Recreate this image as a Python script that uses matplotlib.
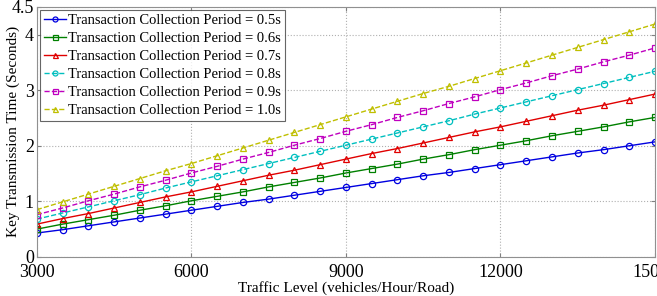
import numpy as np
import matplotlib.pyplot as plt

traffic = [3000, 3500, 4000, 4500, 5000, 5500, 6000, 6500, 7000, 7500, 8000, 8500, 9000,
           9500, 10000, 10500, 11000, 11500, 12000, 12500, 13000, 13500, 14000, 14500, 15000]

t_05 = [0.43, 0.49, 0.56, 0.63, 0.70, 0.77, 0.84, 0.91, 0.98, 1.04, 1.11, 1.18, 1.25,
        1.32, 1.39, 1.46, 1.52, 1.59, 1.66, 1.73, 1.80, 1.87, 1.93, 2.00, 2.07]
t_06 = [0.50, 0.59, 0.67, 0.75, 0.84, 0.92, 1.01, 1.09, 1.17, 1.26, 1.34, 1.42, 1.51,
        1.59, 1.67, 1.76, 1.84, 1.93, 2.01, 2.09, 2.18, 2.26, 2.34, 2.43, 2.51]
t_07 = [0.59, 0.69, 0.78, 0.88, 0.98, 1.08, 1.17, 1.27, 1.37, 1.47, 1.56, 1.66, 1.76,
        1.86, 1.95, 2.05, 2.15, 2.25, 2.34, 2.44, 2.54, 2.64, 2.73, 2.83, 2.93]
t_08 = [0.68, 0.79, 0.90, 1.01, 1.12, 1.24, 1.35, 1.46, 1.57, 1.68, 1.79, 1.90, 2.01,
        2.12, 2.23, 2.34, 2.45, 2.57, 2.68, 2.79, 2.90, 3.01, 3.12, 3.23, 3.34]
t_09 = [0.76, 0.88, 1.01, 1.13, 1.26, 1.38, 1.51, 1.63, 1.76, 1.88, 2.01, 2.13, 2.26,
        2.38, 2.51, 2.63, 2.76, 2.88, 3.01, 3.13, 3.26, 3.38, 3.51, 3.63, 3.76]
t_10 = [0.85, 0.99, 1.13, 1.27, 1.41, 1.55, 1.68, 1.82, 1.96, 2.10, 2.24, 2.38, 2.52,
        2.66, 2.80, 2.94, 3.07, 3.21, 3.35, 3.49, 3.63, 3.77, 3.91, 4.05, 4.19]

labels = ['Transaction Collection Period = 0.5s', 'Transaction Collection Period = 0.6s',
          'Transaction Collection Period = 0.7s', 'Transaction Collection Period = 0.8s',
          'Transaction Collection Period = 0.9s', 'Transaction Collection Period = 1.0s']
x_ticks = [3000, 6000, 9000, 12000, 15000]
y_ticks = [0, 1, 2, 3, 4, 4.5]

plt.rcParams['font.family'] = ['Liberation Serif', 'DejaVu Serif']

fig = plt.figure(figsize=(6.57, 2.96), dpi=100)
ax = fig.add_axes([0.056, 0.132, 0.941, 0.845])

series = [t_05, t_06, t_07, t_08, t_09, t_10]
colors = ['#0000e0', '#008000', '#e00000', '#00bfbf', '#bf00bf', '#bfbf00']
markers = ['o', 's', '^', 'o', 's', '^']
styles = ['-', '-', '-', '--', '--', '--']

for y, c, m, ls, lab in zip(series, colors, markers, styles, labels):
    ax.plot(traffic, y, color=c, marker=m, linestyle=ls, linewidth=1.0,
            markersize=4.5, markerfacecolor='none', markeredgewidth=0.9, label=lab)

ax.set_xlim(3000, 15000)
ax.set_ylim(0, 4.5)
ax.set_xticks(x_ticks)
ax.set_yticks(y_ticks)
ax.set_yticklabels(['0', '1', '2', '3', '4', '4.5'])
ax.tick_params(direction='in', labelsize=13, length=3, color='#808080',
               top=True, right=True, pad=2)
ax.tick_params(axis='x', pad=5)
ax.grid(True, linestyle=':', color='#b0b0b0', linewidth=0.8)
for s in ax.spines.values():
    s.set_color('#909090')

ax.set_xlabel('Traffic Level (vehicles/Hour/Road)', fontsize=11, labelpad=0)
ax.set_ylabel('Key Transmission Time (Seconds)', fontsize=11)
ax.yaxis.set_label_coords(-0.027, 0.5)

leg = ax.legend(loc='upper left', fontsize=10.5, frameon=True, fancybox=False,
                borderaxespad=0.2, handlelength=1.5, handletextpad=0.15,
                labelspacing=0.32, borderpad=0.3, markerscale=0.8)
leg.get_frame().set_edgecolor('#404040')
leg.get_frame().set_linewidth(0.8)

fig.savefig('out.png', dpi=100)
